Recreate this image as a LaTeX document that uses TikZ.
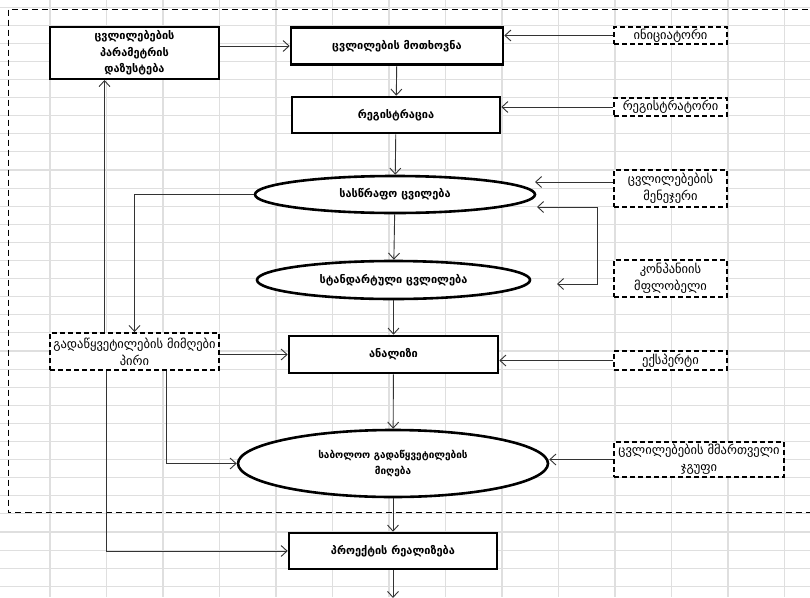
\documentclass[tikz,border=0pt]{standalone}
\usepackage{fontspec}
\setmainfont{DejaVu Sans}
\usetikzlibrary{arrows.meta,calc,shapes.geometric}

\begin{document}
\begin{tikzpicture}[x=1pt,y=-1pt,
  gridline/.style={draw=gray!25,line width=1.1pt},
  outerline/.style={draw=black,line width=1.4pt,dash pattern=on 6pt off 4pt},
  stepbox/.style={draw,line width=2.6pt,fill=white,inner sep=0pt,align=center,
    font=\bfseries\fontsize{11}{16.5}\selectfont},
  stepoval/.style={stepbox,ellipse},
  rolebox/.style={draw,line width=1.9pt,dash pattern=on 5pt off 3pt,fill=white,
    inner sep=0pt,align=center,font=\fontsize{12.5}{17}\selectfont},
  conn/.style={draw=black!80,line width=0.9pt,-{Straight Barb[length=6pt,width=11pt]}}]

  \useasboundingbox (0,0) rectangle (810,597);
  \clip (0,0) rectangle (810,597);

  \foreach \i in {0,...,14}
    \draw[gridline] ({-6.5+56.5*\i},0) -- ++(0,597);
  \foreach \j in {0,...,32}
    \draw[gridline] (0,{7.1+18.1*\j}) -- ++(810,0);

  \draw[outerline] (8.5,9.5) rectangle (830,512.5);

  \draw (134.5,53) node[stepbox,line width=2pt,minimum width=169pt,minimum height=52pt] (adjust)
    {ცვლილებების\\პარამეტრის\\დაზუსტება};
  \draw (397,46) node[stepbox,minimum width=212pt,minimum height=37pt] (request) {ცვლილების მოთხოვნა};
  \draw (396,115) node[stepbox,minimum width=208pt,minimum height=36pt] (registration) {რეგისტრაცია};
  \draw (395,194.5) node[stepoval,minimum width=280pt,minimum height=37pt] (urgent) {სასწრაფო ცვილება};
  \draw (393.5,280) node[stepoval,minimum width=273pt,minimum height=38pt] (standard) {სტანდარტული ცვლილება};
  \draw (393.5,354.5) node[stepbox,minimum width=209pt,minimum height=37pt] (analysis) {ანალიზი};
  \draw (393,463.5) node[stepoval,minimum width=310pt,minimum height=67pt,
    font=\bfseries\fontsize{10}{16}\selectfont] (decision)
    {საბოლოო გადაწყვეტილების\\მიღება};
  \draw (393,551) node[stepbox,minimum width=208pt,minimum height=36pt] (realize) {პროექტის რეალიზება};

  \draw (670.5,35.5) node[rolebox,minimum width=113pt,minimum height=17pt] (initiator) {ინიციატორი};
  \draw (670.5,107) node[rolebox,minimum width=113pt,minimum height=18pt] (registrar) {რეგისტრატორი};
  \draw (670.5,188.5) node[rolebox,minimum width=113pt,minimum height=37pt] (manager) {ცვლილებების\\მენეჯერი};
  \draw (670.5,278.5) node[rolebox,minimum width=113pt,minimum height=37pt] (owner) {კონპანიის\\მფლობელი};
  \draw (670.5,360.5) node[rolebox,minimum width=113pt,minimum height=19pt] (expert) {ექსპერტი};
  \draw (699,459.5) node[rolebox,minimum width=170pt,minimum height=35pt] (board) {ცვლილებების მმართველი\\ჯგუფი};
  \draw (134.5,351.5) node[rolebox,minimum width=169pt,minimum height=37pt] (decider) {გადაწყვეტილების მიმღები\\პირი};

  \coordinate (mgrtip) at (535,182);
  \coordinate (loopa) at (537,207);
  \coordinate (loopb) at (557,284);
  \coordinate (exit) at (393,598);

  \draw[conn] (adjust.east |- request.west) -- (request.west);
  \draw[conn] (request) -- (registration);
  \draw[conn] (registration) -- (urgent);
  \draw[conn] (urgent) -- (standard);
  \draw[conn] (standard) -- (analysis);
  \draw[conn] (analysis) -- (decision);
  \draw[conn] (decision) -- (realize);
  \draw[conn] (realize) -- (exit);

  \draw[conn] (initiator.west) -- (initiator.west -| request.east);
  \draw[conn] (registrar.west) -- (registrar.west -| registration.east);
  \draw[conn] ($(manager.west)+(0,-6.5)$) -- (mgrtip);
  \draw[conn,{Straight Barb[length=6pt,width=11pt]}-{Straight Barb[length=6pt,width=11pt]}]
    (loopa) -- ++(60,0) |- (loopb);
  \draw[conn] (expert.west) -- (expert.west -| analysis.east);
  \draw[conn] (board.west) -- (board.west -| decision.east);

  \draw[conn] ($(decider.north)+(-30,0)$) -- ($(adjust.south)+(-30,0)$);
  \draw[conn] (urgent.west) -| (decider.north);
  \draw[conn] (decider.east |- analysis.west) -- (analysis.west);
  \draw[conn] ($(decider.south)+(32,0)$) |- (decision.west);
  \draw[conn] ($(decider.south)+(-28,0)$) |- (realize.west);

\end{tikzpicture}
\end{document}
